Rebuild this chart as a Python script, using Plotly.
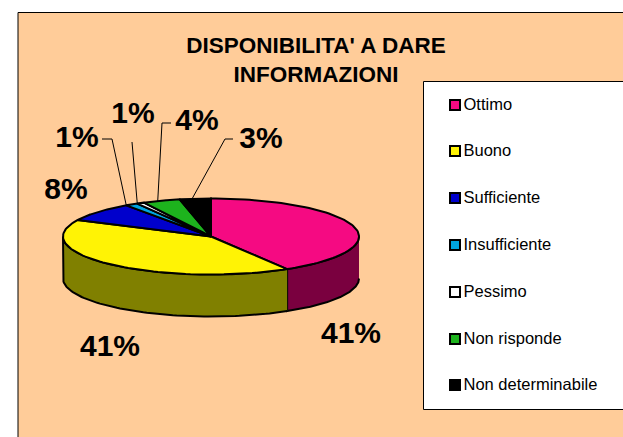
import numpy as np
import plotly.graph_objects as go

categories = ["Ottimo", "Buono", "Sufficiente", "Insufficiente", "Pessimo", "Non risponde", "Non determinabile"]
values = [41.4, 40.7, 8.2, 1.4, 0.8, 4.1, 3.4]
colors = ["#f50a82", "#fff305", "#0000cc", "#00a5e0", "#ffffff", "#1db31d", "#000000"]
wall_colors = ["#7a003f", "#808000", None, None, None, None, None]
title = "DISPONIBILITA' A DARE<br>INFORMAZIONI"

FONT = "Liberation Sans, Arial, sans-serif"
CX, CY, RX, RY, DEPTH = 211, 236.5, 148, 38, 42
label_pos = [(351, 335), (110, 348), (66, 191), (77, 139), (133, 115), (197, 122), (261, 140)]
legend_y = [105, 151, 198, 245, 292, 339, 385]
leader_bends = [None, None, None, [(102, 139), (112, 139)], [(132, 142), (132, 142)],
                [(171, 123), (162, 123)], [(233, 139), (225, 139)]]
leader_frac = [0, 0, 0, 0.0, 0.0, 0.4, 0.4]


def ex(t):
    return CX + RX * np.sin(np.radians(t))


def ey(t):
    return CY - RY * np.cos(np.radians(t))


fig = go.Figure()
total = sum(values)
edges = np.concatenate([[0], np.cumsum(values) / total * 360])

# front walls
for i, wc in enumerate(wall_colors):
    if wc is None:
        continue
    a, b = max(edges[i], 90), min(edges[i + 1], 270)
    t = np.linspace(a, b, 80)
    xs = np.concatenate([ex(t), ex(t[::-1])])
    ys = np.concatenate([ey(t), ey(t[::-1]) + DEPTH])
    fig.add_trace(go.Scatter(x=xs, y=ys, mode="lines", fill="toself", fillcolor=wc,
                             line=dict(color="black", width=2), hoverinfo="skip", showlegend=False))

# top slices
for i, c in enumerate(colors):
    t = np.linspace(edges[i], edges[i + 1], 80)
    xs = np.concatenate([[CX], ex(t), [CX]])
    ys = np.concatenate([[CY], ey(t), [CY]])
    fig.add_trace(go.Scatter(x=xs, y=ys, mode="lines", fill="toself", fillcolor=c,
                             line=dict(color="black", width=2), hoverinfo="skip", showlegend=False))

# leader lines
for i, bend in enumerate(leader_bends):
    if bend is None:
        continue
    anchor = edges[i] + (edges[i + 1] - edges[i]) * leader_frac[i]
    fig.add_trace(go.Scatter(x=[bend[0][0], bend[1][0], float(ex(anchor))],
                             y=[bend[0][1], bend[1][1], float(ey(anchor))],
                             mode="lines", line=dict(color="black", width=1),
                             hoverinfo="skip", showlegend=False))

# percentage labels
fig.add_trace(go.Scatter(x=[p[0] for p in label_pos], y=[p[1] for p in label_pos], mode="text",
                         text=[f"{round(v)}%" for v in values],
                         textfont=dict(family=FONT, size=30, color="black", weight="bold"),
                         textposition="middle center", hoverinfo="skip", showlegend=False))

# legend
fig.add_trace(go.Scatter(x=[455] * len(categories), y=legend_y, mode="markers",
                         marker=dict(symbol="square", size=10, color=colors, line=dict(color="black", width=2)),
                         hoverinfo="skip", showlegend=False))
fig.add_trace(go.Scatter(x=[463.5] * len(categories), y=[y + 1 for y in legend_y], mode="text",
                         text=categories, textposition="middle right",
                         textfont=dict(family=FONT, size=16.5, color="black"),
                         hoverinfo="skip", showlegend=False))

fig.update_layout(
    width=623, height=437, margin=dict(l=0, r=0, t=0, b=0),
    paper_bgcolor="white", plot_bgcolor="white", showlegend=False,
    title=dict(text=title, x=316 / 623, xanchor="center", y=1 - 53 / 437, yanchor="middle",
               font=dict(family=FONT, size=22.5, color="black", weight="bold")),
    xaxis=dict(range=[0, 623], visible=False, fixedrange=True),
    yaxis=dict(range=[437, 0], visible=False, fixedrange=True),
    shapes=[
        dict(type="rect", layer="below", x0=18, y0=12.5, x1=660, y1=470, fillcolor="#ffcc99",
             line=dict(color="black", width=1)),
        dict(type="rect", layer="below", x0=423.5, y0=81.5, x1=660, y1=409.5, fillcolor="white",
             line=dict(color="black", width=1)),
    ],
)
fig.write_html("out.html", config=dict(displayModeBar=False),
               post_script="document.body.style.margin='0';document.documentElement.style.overflow='hidden';")
